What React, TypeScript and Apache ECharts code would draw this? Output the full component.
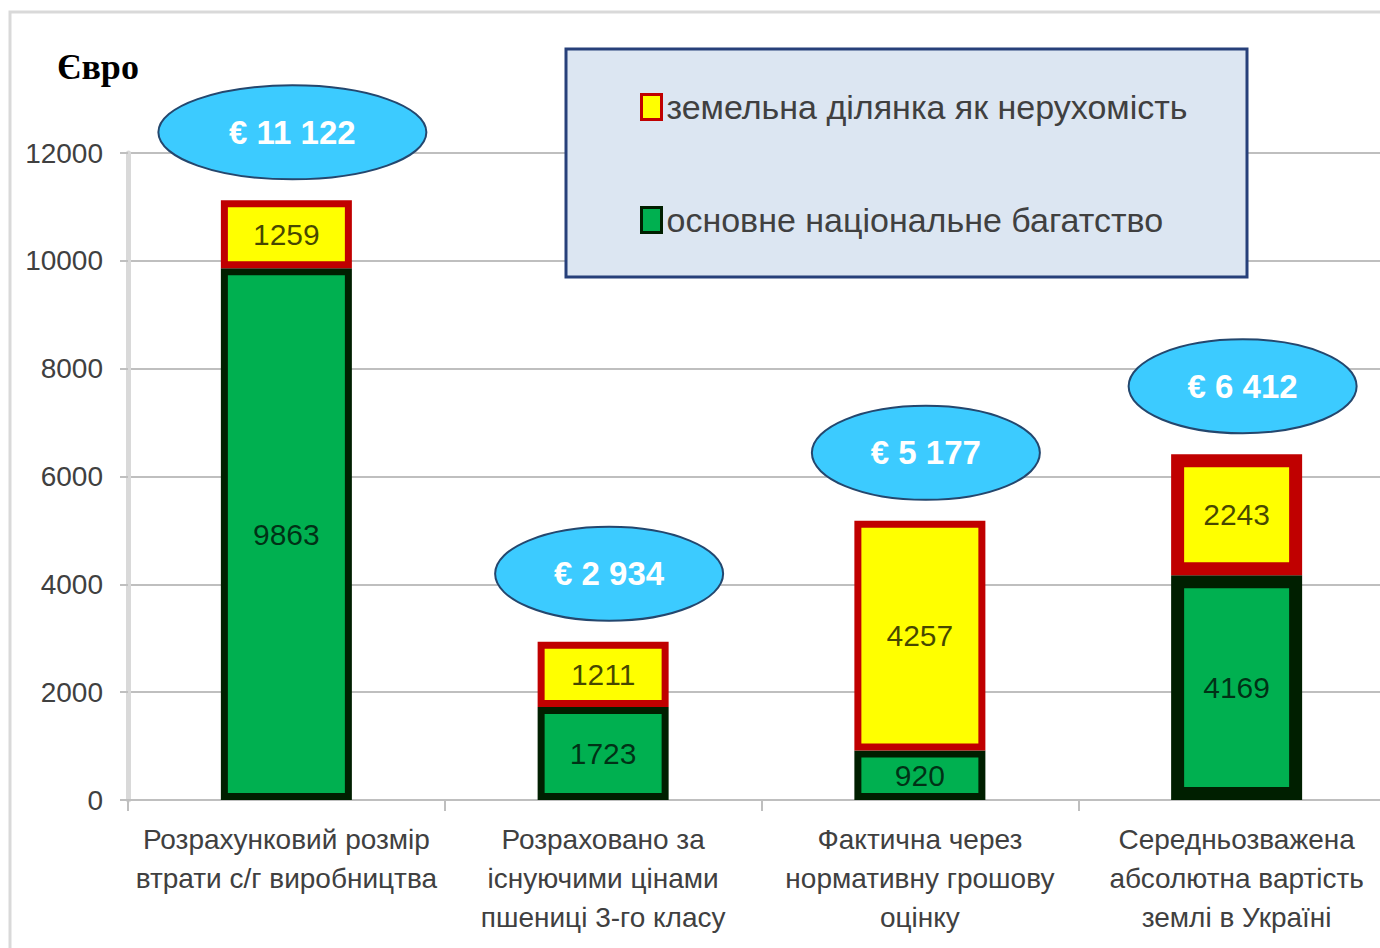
import React, { useEffect, useRef } from "react";
import * as echarts from "echarts";

const categories = [
  "Розрахунковий розмір\nвтрати с/г виробництва",
  "Розраховано за\nіснуючими цінами\nпшениці 3-го класу",
  "Фактична через\nнормативну грошову\nоцінку",
  "Середньозважена\nабсолютна вартість\nземлі в Україні",
];
const baseWealth = [9863, 1723, 920, 4169];
const landRealty = [1259, 1211, 4257, 2243];
const yTicks = { min: 0, max: 12000, interval: 2000 };
const seriesNames = ["основне національне багатство", "земельна ділянка як нерухомість"];
const unitLabel = "Євро";

const totals = baseWealth.map((v, i) => v + landRealty[i]);
const fmtTotal = (v: number) =>
  "€ " + String(v).replace(/\B(?=(\d{3})+(?!\d))/g, " ");

const FONT = "'Liberation Sans', Arial, sans-serif";

export default function App() {
  const ref = useRef<HTMLDivElement>(null);
  useEffect(() => {
    if (!ref.current) return;
    const chart = echarts.init(ref.current, null, { renderer: "svg" });
    const labelStyle = {
      show: true,
      position: "inside",
      fontSize: 30,
      fontFamily: FONT,
      color: "rgba(0,0,0,0.72)",
    };
    chart.setOption({
      animation: false,
      backgroundColor: "#ffffff",
      title: {
        text: unitLabel,
        left: 52,
        top: 44,
        textStyle: {
          fontFamily: "'Liberation Serif', 'Times New Roman', serif",
          fontWeight: "bold",
          fontSize: 36,
          color: "#000000",
        },
      },
      graphic: [
        {
          type: "rect",
          z: 0,
          shape: { x: 10, y: 12, width: 1420, height: 1000 },
          style: { fill: "none", stroke: "#d9d9d9", lineWidth: 3 },
        },
        {
          type: "rect",
          z: 3,
          shape: { x: 566, y: 49, width: 681, height: 228 },
          style: { fill: "#dce6f2", stroke: "#27407a", lineWidth: 3 },
        },
      ],
      legend: {
        data: [seriesNames[1], seriesNames[0]],
        orient: "vertical",
        left: 635,
        top: 85,
        z: 5,
        icon: "rect",
        itemWidth: 20,
        itemHeight: 25,
        itemGap: 79,
        itemStyle: { borderWidth: 3 },
        textStyle: {
          fontFamily: FONT,
          fontSize: 34,
          lineHeight: 34,
          color: "#404040",
        },
      },
      grid: { left: 128, right: 5, top: 153, bottom: 148 },
      xAxis: {
        type: "category",
        data: categories,
        axisLine: { lineStyle: { color: "#bfbfbf", width: 2 } },
        axisTick: { show: true, length: 11, lineStyle: { color: "#bfbfbf", width: 2 } },
        axisLabel: {
          fontFamily: FONT,
          fontSize: 28,
          lineHeight: 39,
          color: "#404040",
          margin: 20,
          interval: 0,
        },
      },
      yAxis: {
        type: "value",
        min: yTicks.min,
        max: yTicks.max,
        interval: yTicks.interval,
        axisLine: { show: true, lineStyle: { color: "#d9d9d9", width: 5 } },
        axisTick: { show: true, length: 8, lineStyle: { color: "#bfbfbf", width: 2 } },
        splitLine: { lineStyle: { color: "#bfbfbf", width: 2 } },
        axisLabel: {
          fontFamily: FONT,
          fontSize: 28,
          color: "#404040",
          margin: 25,
          formatter: (v: number) => String(v),
        },
      },
      series: [
        {
          name: seriesNames[0],
          type: "bar",
          stack: "total",
          barWidth: 131,
          z: 2,
          itemStyle: { color: "#00b050", borderColor: "#001f00", borderWidth: 7 },
          label: labelStyle,
          data: baseWealth.map((v, i) =>
            i === baseWealth.length - 1
              ? { value: v, itemStyle: { borderWidth: 13 } }
              : v
          ),
        },
        {
          name: seriesNames[1],
          type: "bar",
          stack: "total",
          barWidth: 131,
          z: 2,
          itemStyle: { color: "#ffff00", borderColor: "#c00000", borderWidth: 7 },
          label: labelStyle,
          data: landRealty.map((v, i) =>
            i === landRealty.length - 1
              ? { value: v, itemStyle: { borderWidth: 13 } }
              : v
          ),
        },
        {
          name: "totals",
          type: "custom",
          z: 6,
          silent: true,
          data: totals.map((t, i) => [i, t]),
          renderItem: (params: any, api: any) => {
            const pt = api.coord([api.value(0), api.value(1)]);
            const text = fmtTotal(api.value(1));
            const cx = pt[0] + 6;
            const cy = pt[1] - 68;
            const rx = (228 + (text.length - 7) * 40) / 2;
            return {
              type: "group",
              children: [
                {
                  type: "ellipse",
                  shape: { cx, cy, rx, ry: 47 },
                  style: { fill: "#3ccbff", stroke: "#24476e", lineWidth: 2 },
                },
                {
                  type: "text",
                  style: {
                    text,
                    x: cx,
                    y: cy,
                    align: "center",
                    verticalAlign: "middle",
                    fill: "#ffffff",
                    fontSize: 33,
                    fontWeight: "bold",
                    fontFamily: FONT,
                  },
                },
              ],
            };
          },
        },
      ],
    });
    return () => chart.dispose();
  }, []);
  return (
    <div
      style={{
        position: "absolute",
        left: 0,
        top: 0,
        width: 1380,
        height: 948,
        overflow: "hidden",
      }}
    >
      <div ref={ref} style={{ width: 1400, height: 948 }} />
    </div>
  );
}
